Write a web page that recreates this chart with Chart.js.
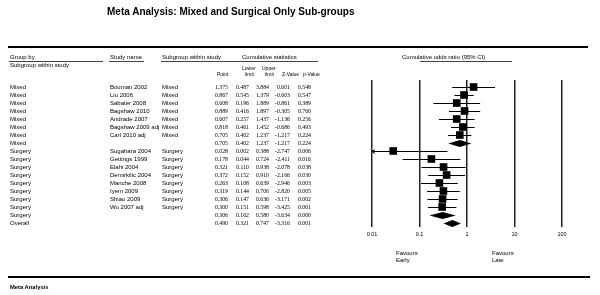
<!DOCTYPE html>
<html><head><meta charset="utf-8">
<script src="https://cdn.jsdelivr.net/npm/chart.js@4.4.1/dist/chart.umd.min.js"></script>
<style>
html,body{margin:0;padding:0;background:#fff;width:600px;height:295px;overflow:hidden;position:relative;font-family:"Liberation Sans",Arial,sans-serif;color:#000}
#wrap{position:absolute;left:0;top:0;width:600px;height:295px}
.t{position:absolute;white-space:nowrap;font-size:6px;line-height:8px;height:8px}
.s{font-size:5px}
.n{font-family:"Liberation Serif","Times New Roman",serif;font-size:5.8px;text-align:right}
.hl{position:absolute;background:#000}
.title{position:absolute;left:107px;top:5px;font-size:10px;font-weight:bold;line-height:14px;white-space:nowrap}
.foot{position:absolute;left:10px;top:282px;font-size:5.8px;font-weight:bold;line-height:10px;white-space:nowrap}
</style></head><body>
<div id="wrap"><canvas id="c"></canvas></div>
<div class="title">Meta Analysis: Mixed and Surgical Only Sub-groups</div>
<div class="hl" style="left:8px;top:46px;width:580px;height:1.5px"></div>
<div class="hl" style="left:8px;top:276px;width:582px;height:2px"></div>
<div class="foot">Meta Analysis</div>
<div id="txt"></div>
<script>
const groupBy = ['Mixed','Mixed','Mixed','Mixed','Mixed','Mixed','Mixed','Mixed',
  'Surgery','Surgery','Surgery','Surgery','Surgery','Surgery','Surgery','Surgery','Surgery','Overall'];
const studyNames = ['Bouman 2002','Liu 2006','Sabater 2008','Bagshaw 2010','Andrade 2007','Bagshaw 2009 adj','Carl 2010 adj','',
  'Sugahara 2004','Gettings 1999','Elahi 2004','Demirkilic 2004','Manche 2008','Iyem 2009','Shiao 2009','Wu 2007 adj','',''];
const subgroupCol = ['Mixed','Mixed','Mixed','Mixed','Mixed','Mixed','Mixed','',
  'Surgery','Surgery','Surgery','Surgery','Surgery','Surgery','Surgery','Surgery','',''];
const rowKind = ['study','study','study','study','study','study','study','summary',
  'study','study','study','study','study','study','study','study','summary','summary'];
const pointOR = [1.375,0.867,0.608,0.889,0.607,0.818,0.705,0.705,0.028,0.178,0.321,0.372,0.263,0.319,0.306,0.300,0.306,0.490];
const lowerCI = [0.487,0.545,0.196,0.416,0.257,0.461,0.402,0.402,0.002,0.044,0.110,0.152,0.108,0.144,0.147,0.151,0.162,0.321];
const upperCI = [3.884,1.379,1.889,1.897,1.437,1.452,1.237,1.237,0.388,0.724,0.938,0.910,0.639,0.706,0.636,0.598,0.580,0.747];
const zValues = [0.601,-0.603,-0.861,-0.305,-1.136,-0.686,-1.217,-1.217,-2.747,-2.411,-2.078,-2.166,-2.946,-2.820,-3.171,-3.425,-3.634,-3.316];
const pValues = [0.548,0.547,0.389,0.760,0.256,0.493,0.224,0.224,0.006,0.016,0.038,0.030,0.003,0.005,0.002,0.001,0.000,0.001];
const axisTicks = [0.01,0.1,1,10,100];

const studyPoints = [];
rowKind.forEach((k,i)=>{ if(k==='study') studyPoints.push({x:pointOR[i], y:i}); });

const forestPlugin = {
  id:'forest',
  beforeDatasetsDraw(chart){
    const {ctx, scales:{x,y}} = chart;
    ctx.save();
    ctx.strokeStyle='#000'; ctx.fillStyle='#000'; ctx.lineWidth=1;
    pointOR.forEach((p,i)=>{
      const yp = Math.round(y.getPixelForValue(i)) + 0.5;
      const lo = Math.max(lowerCI[i], x.min), hi = Math.min(upperCI[i], x.max);
      const xl = x.getPixelForValue(lo), xh = x.getPixelForValue(hi), xp = x.getPixelForValue(p);
      if(rowKind[i]==='study'){
        ctx.beginPath(); ctx.moveTo(xl,yp); ctx.lineTo(xh,yp); ctx.stroke();
        if(lowerCI[i] < x.min){
          ctx.beginPath(); ctx.moveTo(xl+3,yp-2); ctx.lineTo(xl,yp); ctx.lineTo(xl+3,yp+2); ctx.stroke();
        }
      } else {
        const hh = 3.5;
        ctx.beginPath(); ctx.moveTo(xl,yp); ctx.lineTo(xp,yp-hh); ctx.lineTo(xh,yp); ctx.lineTo(xp,yp+hh); ctx.closePath(); ctx.fill();
      }
    });
    ctx.restore();
  }
};

const chart = new Chart(document.getElementById('c'), {
  type:'scatter',
  data:{datasets:[{label:'Studies', data:studyPoints, pointStyle:'rect', pointRadius:5.4,
    backgroundColor:'#000', borderWidth:0}]},
  options:{
    responsive:true, maintainAspectRatio:false, animation:false, devicePixelRatio:1,
    layout:{padding:{left:372, right:38, top:80, bottom:48}},
    plugins:{legend:{display:false}, tooltip:{enabled:false}},
    scales:{
      x:{type:'logarithmic', min:0.01, max:100,
        afterBuildTicks:(s)=>{ s.ticks = axisTicks.map(v=>({value:v})); },
        afterFit:(s)=>{ s.height = 20; },
        ticks:{callback:(v)=>String(v), font:{size:5.5, family:'Liberation Sans'}, color:'#000', padding:4, autoSkip:false, maxRotation:0},
        grid:{color:'#222', lineWidth:1.5, drawTicks:false},
        border:{display:false}},
      y:{type:'linear', min:-0.875, max:17.5, reverse:true, display:false}
    }
  },
  plugins:[forestPlugin]
});

const txt = document.getElementById('txt');
function addText(str, left, cy, cls, extra){
  const d = document.createElement('div');
  d.className = 't' + (cls ? ' '+cls : '');
  d.textContent = str;
  d.style.top = (cy - 4) + 'px';
  if(left !== null) d.style.left = left + 'px';
  if(extra) Object.assign(d.style, extra);
  txt.appendChild(d);
  return d;
}
function addLine(x1, x2, yy){
  const d = document.createElement('div');
  d.className='hl';
  Object.assign(d.style,{left:x1+'px', width:(x2-x1)+'px', top:yy+'px', height:'1px', background:'#444'});
  txt.appendChild(d);
}
function addRight(str, right, cy){
  return addText(str, null, cy, 'n', {right:(600-right)+'px'});
}
// headers
addText('Group by', 10, 57); addLine(9, 103, 61);
addText('Subgroup within study', 10, 65);
addText('Study name', 110, 57); addLine(109, 144, 61);
addText('Subgroup within study', 162, 57); addLine(161, 228, 61);
addText('Cumulative statistics', 242, 57); addLine(218, 318, 61);
addText('Cumulative odds ratio (95% CI)', 402, 57); addLine(420, 512, 61);
addText('Point', 217, 74, 's');
addText('Lower', 242, 68, 's'); addText('limit', 245, 74, 's');
addText('Upper', 262, 68, 's'); addText('limit', 265, 74, 's');
addText('Z-Value', 282, 74, 's');
addText('p-Value', 303, 74, 's');
// rows
const ys = chart.scales.y;
groupBy.forEach((g,i)=>{
  const cy = Math.round(ys.getPixelForValue(i));
  addText(g, 10, cy);
  if(studyNames[i]) addText(studyNames[i], 110, cy);
  if(subgroupCol[i]) addText(subgroupCol[i], 162, cy);
  addRight(pointOR[i].toFixed(3), 228, cy);
  addRight(lowerCI[i].toFixed(3), 249, cy);
  addRight(upperCI[i].toFixed(3), 269, cy);
  addRight(zValues[i].toFixed(3), 290, cy);
  addRight(pValues[i].toFixed(3), 311, cy);
});
addText('Favours', 396, 253); addText('Early', 396, 260);
addText('Favours', 492, 253); addText('Late', 492, 260);
</script>
</body></html>
